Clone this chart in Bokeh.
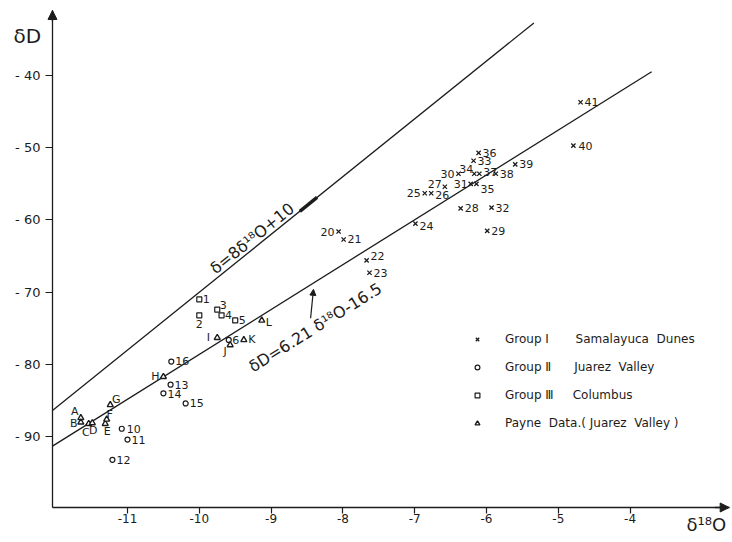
import math
from bokeh.plotting import figure
from bokeh.models import (Range1d, FixedTicker, Label, Arrow, NormalHead,
                          Legend, LegendItem, ColumnDataSource)
from bokeh.core.properties import value
from bokeh.embed import file_html
from bokeh.resources import INLINE

# ---------------- data ----------------
g1_ids = ["20", "21", "22", "23", "24", "25", "26", "27", "28", "29", "30",
          "31", "32", "33", "34", "35", "36", "37", "38", "39", "40", "41"]
g1_o18 = [-8.06, -7.99, -7.67, -7.63, -6.99, -6.86, -6.77, -6.58, -6.36, -5.99, -6.39,
          -6.22, -5.93, -6.18, -6.17, -6.14, -6.11, -6.10, -5.87, -5.60, -4.79, -4.69]
g1_dD = [-61.6, -62.7, -65.6, -67.3, -60.5, -56.3, -56.3, -55.4, -58.4, -61.5, -53.6,
         -55.0, -58.3, -51.8, -53.6, -55.0, -50.7, -53.6, -53.6, -52.3, -49.7, -43.7]

g2_ids = ["6", "10", "11", "12", "13", "14", "15", "16"]
g2_o18 = [-9.59, -11.08, -11.00, -11.21, -10.40, -10.50, -10.19, -10.39]
g2_dD = [-76.6, -88.9, -90.4, -93.2, -82.8, -84.0, -85.4, -79.6]

g3_ids = ["1", "2", "3", "4", "5"]
g3_o18 = [-10.00, -10.00, -9.75, -9.69, -9.50]
g3_dD = [-71.0, -73.2, -72.4, -73.2, -73.9]

pay_ids = ["A", "B", "C", "D", "E", "F", "G", "H", "I", "J", "K", "L"]
pay_o18 = [-11.65, -11.65, -11.54, -11.49, -11.31, -11.29, -11.24, -10.50, -9.75, -9.57, -9.38, -9.13]
pay_dD = [-87.4, -88.0, -88.2, -88.1, -88.2, -87.6, -85.6, -81.7, -76.3, -77.3, -76.6, -73.9]

# meteoric water lines: slope, intercept, x extent
gmwl_slope, gmwl_intercept = 8.0, 10.0
gmwl_x = [-12.045, -5.34]
local_slope, local_intercept = 6.21, -16.5
local_x = [-12.045, -3.70]

x_ticks = [-11, -10, -9, -8, -7, -6, -5, -4]
x_tick_labels = ["-11", "-10", "-9", "-8", "-7", "-6", "-5", "-4"]
y_ticks = [-40, -50, -60, -70, -80, -90]
y_tick_labels = ["- 40", "- 50", "- 60", "- 70", "- 80", "- 90"]

# axes extent (data units)
x_axis_bounds = (-12.045, -2.62)
y_axis_bounds = (-99.8, -31.0)

legend_labels = [
    "Group \u2160" + "\u00a0" * 7 + "Samalayuca\u00a0\u00a0Dunes",
    "Group \u2161" + "\u00a0" * 6 + "Juarez\u00a0\u00a0Valley",
    "Group \u2162" + "\u00a0" * 5 + "Columbus",
    "Payne\u00a0\u00a0Data.(\u00a0Juarez\u00a0\u00a0Valley\u00a0)",
]

# ---------------- layout / style ----------------
FONT = "DejaVu Sans"
INK = "#1c1c1c"
W, H = 730, 540
KX, KY = 71.8, 7.224          # px per data unit
X_MIN = -11 - 127 / KX
X_MAX = X_MIN + W / KX
Y_MAX = -40 + 75 / KY
Y_MIN = Y_MAX - H / KY

def px_x(px):
    return X_MIN + px / KX

def px_y(py):
    return Y_MAX - py / KY

# label offsets (screen px, label centre relative to marker; +dy = down)
g1_dx = [-11, 11, 11, 11, 11, -11, 11, -10, 11, 11, -11, -10, 11, 11, -8, 11, 11, 11, 11, 11, 12, 11]
g1_dy = [0, 0, -4, 0, 2, 0, 2, -3, 0, 0, 0, 0, 0, 0, -5, 5, 0, -2, 0, 0, 0, 0]
g2_dx = [7, 12, 11, 11, 11, 11, 11, 11]
g2_dy = [0, 0, 0, 0, 0, 1, 0, -1]
g3_dx = [7, 0, 6, 7, 7]
g3_dy = [0, 9, -5, 0, 0]
pay_dx = [-6, -7, -3, 1, 2, 3, 6, -8, -9, -5, 8, 7]
pay_dy = [-6, 1, 9, 8, 8, -5, -5, 0, 0, 7, 0, 2]

p = figure(width=W, height=H, x_range=Range1d(X_MIN, X_MAX), y_range=Range1d(Y_MIN, Y_MAX),
           output_backend="svg", toolbar_location=None,
           min_border_left=0, min_border_right=0, min_border_top=0, min_border_bottom=0)
p.title.visible = False
p.outline_line_color = None
p.grid.visible = False
p.background_fill_color = "white"
p.border_fill_color = "white"

for ax in (p.xaxis[0], p.yaxis[0]):
    ax.axis_line_color = INK
    ax.axis_line_width = 1.3
    ax.major_tick_line_color = INK
    ax.major_tick_line_width = 1.2
    ax.major_tick_in = 0
    ax.minor_tick_out = 0
    ax.minor_tick_in = 0
    ax.major_label_text_font = FONT
    ax.major_label_text_color = INK

p.xaxis.fixed_location = y_axis_bounds[0]
p.xaxis.bounds = x_axis_bounds
p.xaxis.ticker = FixedTicker(ticks=x_ticks)
p.xaxis.major_label_overrides = dict(zip(x_ticks, x_tick_labels))
p.xaxis.major_tick_out = 6
p.xaxis.major_label_standoff = 1
p.xaxis.major_label_text_font_size = "12px"
p.yaxis.fixed_location = x_axis_bounds[0]
p.yaxis.bounds = y_axis_bounds
p.yaxis.ticker = FixedTicker(ticks=y_ticks)
p.yaxis.major_label_overrides = dict(zip(y_ticks, y_tick_labels))
p.yaxis.major_tick_out = 7
p.yaxis.major_label_standoff = 5
p.yaxis.major_label_text_font_size = "13px"

# axis arrows
p.add_layout(Arrow(end=NormalHead(size=9, fill_color=INK, line_color=INK, line_width=1),
                   x_start=x_axis_bounds[0], y_start=y_axis_bounds[1] - 1.5,
                   x_end=x_axis_bounds[0], y_end=y_axis_bounds[1],
                   line_color=INK, line_width=1.3))
p.add_layout(Arrow(end=NormalHead(size=9, fill_color=INK, line_color=INK, line_width=1),
                   x_start=x_axis_bounds[1] - 0.2, y_start=y_axis_bounds[0],
                   x_end=x_axis_bounds[1], y_end=y_axis_bounds[0],
                   line_color=INK, line_width=1.3))

# water lines
def line_y(xs, m, b):
    return [m * x + b for x in xs]

p.line(gmwl_x, line_y(gmwl_x, gmwl_slope, gmwl_intercept), line_color=INK, line_width=1.3)
p.line(local_x, line_y(local_x, local_slope, local_intercept), line_color=INK, line_width=1.3)
smudge_x = [-8.60, -8.36]
p.line(smudge_x, line_y(smudge_x, gmwl_slope, gmwl_intercept), line_color=INK, line_width=3.5)

ang_g = math.atan(gmwl_slope * KY / KX)
ang_l = math.atan(local_slope * KY / KX)

p.add_layout(Label(x=-9.82, y=-67.0, text="\u03b4=8\u03b4\u00b9\u2078O+10", angle=ang_g,
                   text_font=FONT, text_font_size="16px", text_color=INK,
                   text_baseline="alphabetic"))
p.add_layout(Label(x=-9.29, y=-80.5, text="\u03b4D=6.21 \u03b4\u00b9\u2078O-16.5", angle=ang_l,
                   text_font=FONT, text_font_size="16px", text_color=INK,
                   text_baseline="alphabetic"))
p.add_layout(Arrow(end=NormalHead(size=6, fill_color=INK, line_color=INK),
                   x_start=-8.45, y_start=-73.6, x_end=-8.41, y_end=-69.6,
                   line_color=INK, line_width=1.2))

# axis titles
p.add_layout(Label(x=px_x(13), y=px_y(23), text="\u03b4D", text_font=FONT,
                   text_font_size="20px", text_color=INK, text_baseline="top"))
p.add_layout(Label(x=px_x(686), y=px_y(513), text="\u03b4\u00b9\u2078O", text_font=FONT,
                   text_font_size="18px", text_color=INK, text_baseline="top"))

# points
def src(ids, xs, ys, dx, dy):
    return ColumnDataSource(dict(x=xs, y=ys, t=ids, dx=dx, dy=dy))

s1 = src(g1_ids, g1_o18, g1_dD, g1_dx, g1_dy)
s2 = src(g2_ids, g2_o18, g2_dD, g2_dx, g2_dy)
s3 = src(g3_ids, g3_o18, g3_dD, g3_dx, g3_dy)
s4 = src(pay_ids, pay_o18, pay_dD, pay_dx, pay_dy)

r1 = p.scatter("x", "y", source=s1, marker="x", size=6, line_color=INK, line_width=1.3)
r2 = p.scatter("x", "y", source=s2, marker="circle", size=5, line_color=INK, line_width=1.2,
               fill_color="white")
r3 = p.scatter("x", "y", source=s3, marker="square", size=5, line_color=INK, line_width=1.2,
               fill_color="white")
r4 = p.scatter("x", "y", source=s4, marker="triangle", size=6, line_color=INK, line_width=1.4,
               fill_color="white")

for s in (s1, s2, s3, s4):
    p.text("x", "y", text="t", source=s, x_offset="dx", y_offset="dy",
           text_align="center", text_baseline="middle", text_font=value(FONT),
           text_font_size="11px", text_color=INK)

legend = Legend(items=[LegendItem(label=legend_labels[0], renderers=[r1]),
                       LegendItem(label=legend_labels[1], renderers=[r2]),
                       LegendItem(label=legend_labels[2], renderers=[r3]),
                       LegendItem(label=legend_labels[3], renderers=[r4])],
                location=(471, 110), orientation="vertical",
                glyph_width=12, glyph_height=14, label_height=14, label_standoff=22,
                spacing=14, padding=0, margin=0, border_line_color=None,
                background_fill_alpha=0, label_text_font=FONT,
                label_text_font_size="12px", label_text_color=INK)
p.add_layout(legend)

open("out.html", "w").write(file_html(p, INLINE))
